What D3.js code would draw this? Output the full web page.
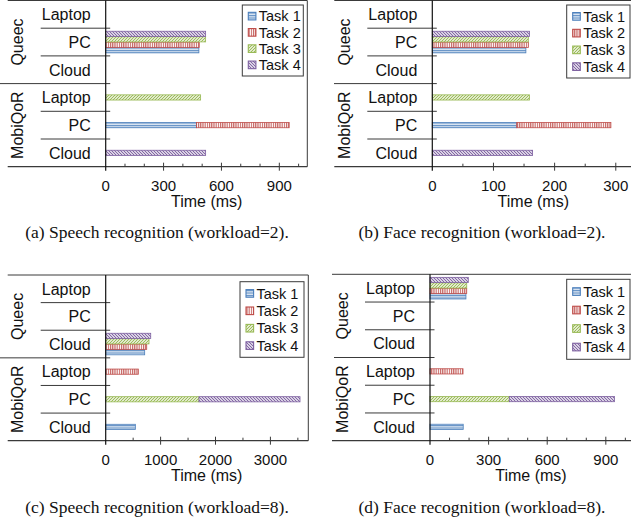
<!DOCTYPE html>
<html>
<head>
<meta charset="utf-8">
<script src="https://cdn.jsdelivr.net/npm/d3@7"></script>
<style>
  body { margin: 0; background: #fff; }
  svg { display: block; }
  text { font-family: "Liberation Sans", Arial, sans-serif; fill: #111; }
  .caption { font-family: "Liberation Serif", "Times New Roman", serif; fill: #111; }
</style>
</head>
<body>
<svg width="631" height="525"></svg>
<script>
var tasks = ["Task 1", "Task 2", "Task 3", "Task 4"];
var devices = ["Laptop", "PC", "Cloud"];
var groups = ["Queec", "MobiQoR"];

// rows: Laptop, PC, Cloud ; columns: Task 1..Task 4 (ms)
var speech2Queec = [[0, 0, 0, 0], [483, 485, 518, 518], [0, 0, 0, 0]];
var speech2Mobi  = [[0, 0, 492, 0], [471, 480, 0, 0], [0, 0, 0, 518]];
var face2Queec   = [[0, 0, 0, 0], [153, 157, 157, 159], [0, 0, 0, 0]];
var face2Mobi    = [[0, 0, 159, 0], [138, 154, 0, 0], [0, 0, 0, 164]];
var speech8Queec = [[0, 0, 0, 0], [0, 0, 0, 0], [710, 747, 789, 820]];
var speech8Mobi  = [[0, 594, 0, 0], [0, 0, 1699, 1840], [540, 0, 0, 0]];
var face8Queec   = [[184, 188, 188, 196], [0, 0, 0, 0], [0, 0, 0, 0]];
var face8Mobi    = [[0, 169, 0, 0], [0, 0, 406, 538], [170, 0, 0, 0]];

var speech2Ticks = [0, 300, 600, 900];
var face2Ticks   = [0, 100, 200, 300];
var speech8Ticks = [0, 1000, 2000, 3000];
var face8Ticks   = [0, 300, 600, 900];

var captions = [
  "(a) Speech recognition (workload=2).",
  "(b) Face recognition (workload=2).",
  "(c) Speech recognition (workload=8).",
  "(d) Face recognition (workload=8)."
];

var colors = ["#4a7ebb", "#be4b48", "#98b954", "#7d60a0"];
var lineColor = "#3a3a3a";

var svg = d3.select("svg");

// patterns
var defs = svg.append("defs");
function pat(id, w, h, bg, draw) {
  var p = defs.append("pattern").attr("id", id)
      .attr("patternUnits", "userSpaceOnUse")
      .attr("width", w).attr("height", h);
  p.append("rect").attr("width", w).attr("height", h).attr("fill", bg);
  draw(p);
}
pat("p0", 4, 2.5, "#dce6f2", function(p) {
  p.append("line").attr("x1", 0).attr("x2", 4).attr("y1", 0.6).attr("y2", 0.6)
    .attr("stroke", colors[0]).attr("stroke-width", 0.9);
});
pat("p1", 2.2, 4, "#fff", function(p) {
  p.append("line").attr("x1", 0.6).attr("x2", 0.6).attr("y1", 0).attr("y2", 4)
    .attr("stroke", colors[1]).attr("stroke-width", 1);
});
pat("p2", 3, 3, "#fff", function(p) {
  p.append("path").attr("d", "M-1,1 L1,-1 M0,3 L3,0 M2,4 L4,2")
    .attr("stroke", colors[2]).attr("stroke-width", 1.1);
});
pat("p3", 3, 3, "#fff", function(p) {
  p.append("path").attr("d", "M-1,2 L1,4 M0,0 L3,3 M2,-1 L4,1")
    .attr("stroke", colors[3]).attr("stroke-width", 1.1);
});

var panels = [
  {queec: speech2Queec, mobi: speech2Mobi, ticks: speech2Ticks, minor: 100, max: 1045,
   left: 105.7, width: 201.6, top: 0.5, bottom: 166.7, gx: 0, capY: 238, capX: 157,
   legend: {x: 242.3, y: 5, w: 61, h: 71}},
  {queec: face2Queec, mobi: face2Mobi, ticks: face2Ticks, minor: 50, max: 327,
   left: 432.3, width: 200, top: 0.5, bottom: 166.7, gx: 334, capY: 238, capX: 482,
   legend: {x: 566.7, y: 5, w: 63.3, h: 73}},
  {queec: speech8Queec, mobi: speech8Mobi, ticks: speech8Ticks, minor: 500, max: 3690,
   left: 105.7, width: 202.6, top: 275, bottom: 440.7, gx: 0, capY: 513, capX: 157,
   legend: {x: 240, y: 281.7, w: 64, h: 75.6}},
  {queec: face8Queec, mobi: face8Mobi, ticks: face8Ticks, minor: 100, max: 1034,
   left: 430, width: 202, top: 274.3, bottom: 440.7, gx: 334, capY: 513, capX: 482,
   legend: {x: 566.7, y: 279.3, w: 63.3, h: 80}}
];

panels.forEach(function(p, i) {
  var g = svg.append("g");
  var right = p.left + p.width;
  var x = d3.scaleLinear().domain([0, p.max]).range([p.left, right]);
  var y = d3.scaleBand().domain(d3.range(6)).range([p.top, p.bottom]);
  var rh = y.bandwidth();
  var sub = d3.scaleBand().domain([3, 2, 1, 0])
      .range([rh * 0.11, rh * 0.89]).paddingInner(0.05);
  var bh = sub.bandwidth();

  // frame lines
  g.append("line").attr("x1", p.left - 98).attr("x2", right)
    .attr("y1", p.top).attr("y2", p.top).attr("stroke", lineColor);
  g.append("line").attr("x1", right).attr("x2", right)
    .attr("y1", p.top).attr("y2", p.bottom).attr("stroke", lineColor);
  g.append("line").attr("x1", p.left - 98).attr("x2", right)
    .attr("y1", p.bottom).attr("y2", p.bottom).attr("stroke", lineColor).attr("stroke-width", 1.2);

  // row separators
  [1, 2, 4, 5].forEach(function(r) {
    g.append("line").attr("x1", p.left - 65).attr("x2", p.left + 4.5)
      .attr("y1", y(r)).attr("y2", y(r)).attr("stroke", lineColor);
  });
  g.append("line").attr("x1", p.gx).attr("x2", p.left + 4.5)
    .attr("y1", y(3)).attr("y2", y(3)).attr("stroke", lineColor);

  // queec grouped bars
  p.queec.forEach(function(row, r) {
    row.forEach(function(v, t) {
      if (!v) return;
      g.append("rect")
        .attr("x", x(0)).attr("y", y(r) + sub(t))
        .attr("width", x(v) - x(0)).attr("height", bh)
        .attr("fill", "url(#p" + t + ")")
        .attr("stroke", colors[t]).attr("stroke-width", 0.8);
    });
  });

  // mobiqor stacked bars
  p.mobi.forEach(function(row, r) {
    var acc = 0;
    row.forEach(function(v, t) {
      if (!v) return;
      g.append("rect")
        .attr("x", x(acc)).attr("y", y(r + 3) + rh / 2 - bh / 2)
        .attr("width", x(acc + v) - x(acc)).attr("height", bh)
        .attr("fill", "url(#p" + t + ")")
        .attr("stroke", colors[t]).attr("stroke-width", 0.8);
      acc += v;
    });
  });

  // y axis line
  g.append("line").attr("x1", x(0)).attr("x2", x(0))
    .attr("y1", p.top).attr("y2", p.bottom + 4).attr("stroke", "#111").attr("stroke-width", 1.2);

  // x ticks
  d3.range(p.minor, p.max, p.minor).forEach(function(v) {
    var major = p.ticks.indexOf(v) >= 0;
    g.append("line").attr("x1", x(v)).attr("x2", x(v))
      .attr("y1", p.bottom - (major ? 4 : 3)).attr("y2", p.bottom + (major ? 4 : 0))
      .attr("stroke", lineColor);
  });
  g.selectAll(".tick").data(p.ticks).enter().append("text")
    .attr("x", function(d) { return x(d); })
    .attr("y", p.bottom + 24)
    .attr("text-anchor", "middle")
    .style("font-size", "15px")
    .text(function(d) { return d; });
  g.append("text")
    .attr("x", p.left + 101)
    .attr("y", p.bottom + 40)
    .attr("text-anchor", "middle")
    .style("font-size", "16px")
    .text("Time (ms)");

  // row labels
  d3.range(6).forEach(function(r) {
    g.append("text").attr("x", p.left - 15).attr("y", y(r) + rh / 2)
      .attr("dy", "0.36em").attr("text-anchor", "end")
      .style("font-size", "16px").text(devices[r % 3]);
  });
  groups.forEach(function(name, k) {
    var cy = (y(k * 3) + y(k * 3 + 2) + rh) / 2;
    g.append("text")
      .attr("transform", "translate(" + (p.left - 88) + "," + cy + ") rotate(-90)")
      .attr("dy", "0.36em").attr("text-anchor", "middle")
      .style("font-size", "16px").text(name);
  });

  // legend
  var L = p.legend;
  g.append("rect").attr("x", L.x).attr("y", L.y).attr("width", L.w).attr("height", L.h)
    .attr("fill", "#fff").attr("stroke", lineColor);
  var step = (L.h - 6) / 4;
  tasks.forEach(function(name, t) {
    var cy = L.y + 3 + step * (t + 0.5);
    g.append("rect").attr("x", L.x + 6).attr("y", cy - 3.8).attr("width", 7.6).attr("height", 7.6)
      .attr("fill", "url(#p" + t + ")").attr("stroke", colors[t]).attr("stroke-width", 1.1);
    g.append("text").attr("x", L.x + 16.5).attr("y", cy).attr("dy", "0.36em")
      .style("font-size", "14.5px").text(name);
  });

  // caption
  svg.append("text").attr("class", "caption")
    .attr("x", p.capX).attr("y", p.capY)
    .attr("text-anchor", "middle")
    .style("font-size", "17.5px")
    .text(captions[i]);
});
</script>
</body>
</html>
